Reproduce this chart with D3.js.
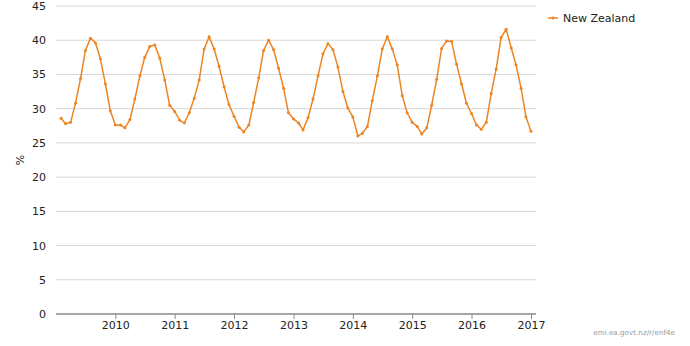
<!DOCTYPE html>
<html>
<head>
<meta charset="utf-8">
<script src="https://cdn.jsdelivr.net/npm/d3@7"></script>
<style>
  body { margin: 0; background: #fff; }
  svg { display: block; font-family: "DejaVu Sans", sans-serif; }
</style>
</head>
<body>
<script>
// monthly share, first value is Feb 2009, last is Jan 2017
var firstMonth = [2009, 1];
var share = [
  28.6, 27.8, 28.0, 30.8, 34.4, 38.5, 40.3, 39.6, 37.3, 33.6, 29.7, 27.6,
  27.6, 27.2, 28.4, 31.4, 34.8, 37.5, 39.1, 39.3, 37.4, 34.2, 30.5, 29.6,
  28.3, 27.9, 29.4, 31.5, 34.2, 38.7, 40.5, 38.7, 36.2, 33.2, 30.6, 28.9,
  27.3, 26.6, 27.6, 30.9, 34.5, 38.5, 40.0, 38.6, 35.9, 33.0, 29.4, 28.5,
  27.9, 26.9, 28.7, 31.4, 34.8, 38.0, 39.5, 38.6, 36.1, 32.5, 30.1, 28.8,
  26.0, 26.4, 27.4, 31.2, 34.8, 38.7, 40.5, 38.7, 36.4, 31.9, 29.4, 28.0,
  27.4, 26.3, 27.2, 30.5, 34.3, 38.8, 39.9, 39.8, 36.5, 33.6, 30.8, 29.3,
  27.6, 27.0, 28.0, 32.2, 35.8, 40.4, 41.6, 38.9, 36.4, 33.0, 28.8, 26.7
];
var yTicks = [0, 5, 10, 15, 20, 25, 30, 35, 40, 45];
var yearTicks = [2010, 2011, 2012, 2013, 2014, 2015, 2016, 2017];
var seriesName = "New Zealand";
var sourceText = "emi.ea.govt.nz/r/enf4e";

var W = 690, H = 346;
var colour = "#ec8424";

var data = share.map(function(v, i) {
  return { date: new Date(firstMonth[0], firstMonth[1] + i, 1), value: v };
});

var svg = d3.select("body").append("svg").attr("width", W).attr("height", H);

var x = d3.scaleTime()
  .domain([new Date(2009, 0, 1), new Date(2017, 0, 1)])
  .range([56, 531]);
var y = d3.scaleLinear().domain([0, 45]).range([314, 6]);
var plotLeft = 56, plotRight = 536;

// gridlines
svg.append("g").selectAll("line")
  .data(yTicks.filter(function(d) { return d > 0; }))
  .enter().append("line")
  .attr("x1", plotLeft).attr("x2", plotRight)
  .attr("y1", function(d) { return y(d); })
  .attr("y2", function(d) { return y(d); })
  .attr("stroke", "#d8d8d8")
  .attr("stroke-width", 1);

// y labels
svg.append("g").selectAll("text")
  .data(yTicks)
  .enter().append("text")
  .attr("x", 46)
  .attr("y", function(d) { return y(d); })
  .attr("dy", "0.36em")
  .attr("text-anchor", "end")
  .attr("font-size", 11)
  .attr("fill", "#222")
  .text(function(d) { return d; });

svg.append("text")
  .attr("transform", "translate(24,160) rotate(-90)")
  .attr("text-anchor", "middle")
  .attr("font-size", 11)
  .attr("fill", "#222")
  .text("%");

// x axis
var xAxis = d3.axisBottom(x)
  .tickValues(yearTicks.map(function(yr) { return new Date(yr, 0, 1); }))
  .tickFormat(d3.timeFormat("%Y"))
  .tickSize(5)
  .tickSizeOuter(0);

var gx = svg.append("g").attr("transform", "translate(0," + y(0) + ")").call(xAxis);
gx.select(".domain").remove();
gx.selectAll(".tick line").attr("stroke", "#888");
gx.selectAll(".tick text")
  .attr("font-size", 11)
  .attr("font-family", "DejaVu Sans, sans-serif")
  .attr("fill", "#222")
  .attr("y", 7);
gx.append("line")
  .attr("x1", plotLeft).attr("x2", plotRight)
  .attr("y1", 0).attr("y2", 0)
  .attr("stroke", "#888")
  .attr("stroke-width", 1.5);

// series line
var line = d3.line()
  .x(function(d) { return x(d.date); })
  .y(function(d) { return y(d.value); });

svg.append("path")
  .datum(data)
  .attr("d", line)
  .attr("fill", "none")
  .attr("stroke", colour)
  .attr("stroke-width", 1.5);

svg.append("g").selectAll("circle")
  .data(data)
  .enter().append("circle")
  .attr("cx", function(d) { return x(d.date); })
  .attr("cy", function(d) { return y(d.value); })
  .attr("r", 1.5)
  .attr("fill", colour);

// legend
var lg = svg.append("g").attr("transform", "translate(548,18)");
lg.append("line").attr("x1", 0).attr("x2", 10).attr("y1", 0).attr("y2", 0)
  .attr("stroke", colour).attr("stroke-width", 1.5);
lg.append("circle").attr("cx", 5).attr("cy", 0).attr("r", 1.5).attr("fill", colour);
lg.append("text")
  .attr("x", 15).attr("y", 0).attr("dy", "0.35em")
  .attr("font-size", 11)
  .attr("fill", "#222")
  .text(seriesName);

// source
svg.append("text")
  .attr("x", 675).attr("y", 335)
  .attr("text-anchor", "end")
  .attr("font-size", 7.2)
  .attr("fill", "#999")
  .text(sourceText);
</script>
</body>
</html>
